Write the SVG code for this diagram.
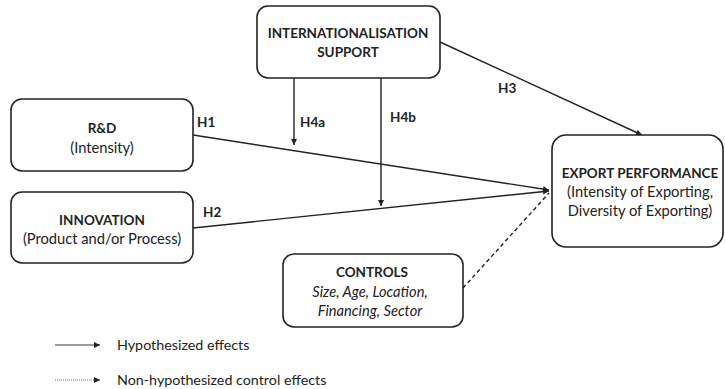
<svg xmlns="http://www.w3.org/2000/svg" width="725" height="389" viewBox="0 0 725 389">
<defs>
<style>
.box{fill:#fff;stroke:#222;stroke-width:1.6}
.t{font-family:Lato,"Liberation Sans",sans-serif;font-size:14.7px;fill:#222;text-anchor:middle}
.b{font-weight:bold;font-size:13.5px}
.i{font-style:italic}
.lbl{font-family:Lato,"Liberation Sans",sans-serif;font-size:13.5px;font-weight:bold;fill:#222}
.leg{font-family:Lato,"Liberation Sans",sans-serif;font-size:14.3px;fill:#222}
.e{fill:none;stroke:#222;stroke-width:1.4}
</style>
<marker id="ah" viewBox="0 0 10 10" refX="10" refY="5" markerWidth="7" markerHeight="6" markerUnits="userSpaceOnUse" orient="auto">
<path d="M0,0 L10,5 L0,10 z" fill="#222"/>
</marker>
</defs>
<rect width="725" height="389" fill="#fff"/>
<g id="connectors">
<line class="e" x1="193" y1="135" x2="549" y2="190" marker-end="url(#ah)"/>
<line class="e" x1="193" y1="228" x2="549" y2="191" marker-end="url(#ah)"/>
<line class="e" x1="440" y1="42" x2="642" y2="135" marker-end="url(#ah)"/>
<line class="e" x1="294" y1="78" x2="294" y2="145" marker-end="url(#ah)"/>
<line class="e" x1="381" y1="78" x2="381" y2="206" marker-end="url(#ah)"/>
<line class="e" x1="463" y1="288" x2="549" y2="193" stroke-dasharray="4,3"/>
</g>
<g id="n-intl">
<rect class="box" x="257" y="6" width="183" height="72" rx="11"/>
<text class="t b" x="348" y="38">INTERNATIONALISATION</text>
<text class="t b" x="348" y="57">SUPPORT</text>
</g>
<g id="n-rd">
<rect class="box" x="11" y="99" width="182" height="72" rx="11"/>
<text class="t b" x="102" y="133">R&amp;D</text>
<text class="t" x="102" y="153">(Intensity)</text>
</g>
<g id="n-innov">
<rect class="box" x="11" y="192" width="182" height="71" rx="11"/>
<text class="t b" x="102" y="225">INNOVATION</text>
<text class="t" x="102" y="244">(Product and/or Process)</text>
</g>
<g id="n-export">
<rect class="box" x="552" y="135" width="171" height="112" rx="14"/>
<text class="t b" x="640" y="178">EXPORT PERFORMANCE</text>
<text class="t" x="640" y="197">(Intensity of Exporting,</text>
<text class="t" x="640" y="216">Diversity of Exporting)</text>
</g>
<g id="n-controls">
<rect class="box" x="283" y="254" width="180" height="73" rx="11"/>
<text class="t b" x="372" y="277">CONTROLS</text>
<text class="t i" x="370" y="297">Size, Age, Location,</text>
<text class="t i" x="370" y="316">Financing, Sector</text>
</g>
<g id="labels">
<text class="lbl" x="197" y="127">H1</text>
<text class="lbl" x="203" y="217">H2</text>
<text class="lbl" x="498" y="93">H3</text>
<text class="lbl" x="300" y="127">H4a</text>
<text class="lbl" x="390" y="122">H4b</text>
</g>
<g id="legend">
<line x1="55" y1="345" x2="100" y2="345" stroke="#222" stroke-width="0.9" marker-end="url(#ah)"/>
<text class="leg" x="117" y="350">Hypothesized effects</text>
<line x1="55" y1="380" x2="100" y2="380" stroke="#555" stroke-width="0.9" stroke-dasharray="1,1" marker-end="url(#ah)"/>
<text class="leg" x="117" y="385">Non-hypothesized control effects</text>
</g>
</svg>
